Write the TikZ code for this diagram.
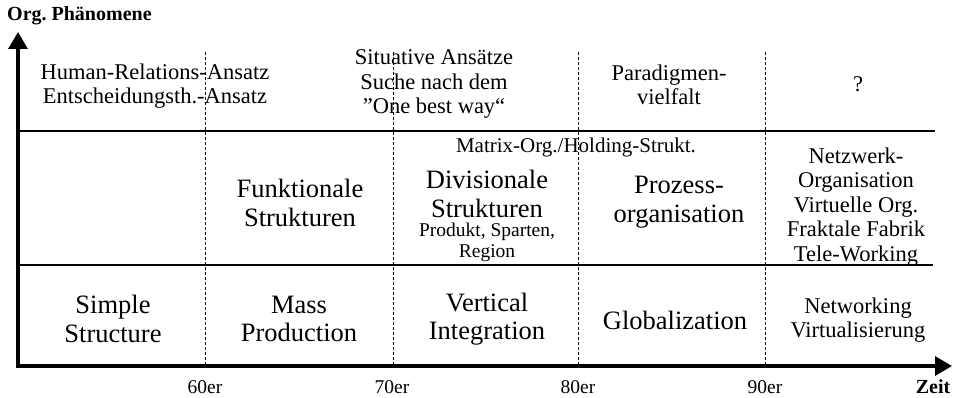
\documentclass[tikz,border=0pt]{standalone}
\usepackage{fontspec}
\setmainfont{Liberation Serif}
\usetikzlibrary{arrows.meta}
\frenchspacing
\begin{document}
\begin{tikzpicture}[x=1pt,y=-1pt,
  axis/.style={line width=3.2pt,-{Triangle[length=17pt,width=19pt]}},
  rowline/.style={line width=1.5pt},
  sepline/.style={line width=0.9pt,dash pattern=on 3pt off 2pt},
  big/.style={align=center,inner sep=0pt,font=\fontsize{26.5}{28.5}\selectfont},
  mid/.style={align=center,inner sep=0pt,font=\fontsize{22.5}{24.5}\selectfont},
  small/.style={align=center,inner sep=0pt,font=\fontsize{21}{23}\selectfont},
  tiny/.style={align=center,inner sep=0pt,font=\fontsize{19.5}{21}\selectfont},
  lbl/.style={inner sep=0pt,font=\fontsize{19.5}{21}\selectfont},
  blbl/.style={inner sep=0pt,font=\fontsize{20}{22}\selectfont\bfseries}]
\useasboundingbox (0,0) rectangle (956,398);
% axes
\coordinate (O) at (18,366);
\coordinate (Ytop) at (18,32);
\coordinate (Xend) at (952,366);
\coordinate (L1a) at (18,131);
\coordinate (L1b) at (935,131);
\coordinate (L2a) at (18,265);
\coordinate (L2b) at (933,265);
\draw[rowline] (L1a) -- (L1b);
\draw[rowline] (L2a) -- (L2b);
\foreach \n/\x in {60/205,70/393,80/578,90/765}{
  \coordinate (t\n) at (\x,52);
  \coordinate (b\n) at (\x,366);
  \draw[sepline] (t\n) -- (b\n);
}
\draw[axis] ([yshift=1.6pt]O) -- (Ytop);
\draw[axis] ([xshift=-1.6pt]O) -- (Xend);
% axis labels
\node[blbl,anchor=west] (ylab) at (7,16) {Org. Phänomene};
\node[blbl] (xlab) at (933,386.5) {Zeit};
\node[lbl] (d60) at (205,387) {60er};
\node[lbl] (d70) at (392,387) {70er};
\node[lbl] (d80) at (578,387) {80er};
\node[lbl] (d90) at (765,387) {90er};
% top row
\node[mid] (hr) at (155,86) {Human-Relations-Ansatz\\Entscheidungsth.-Ansatz};
\node[mid] (sit) at (434,84) {Situative Ansätze\\Suche nach dem\\”One best way“};
\node[mid] (par) at (669,85) {Paradigmen-\\vielfalt};
\node[mid] (q) at (858,84) {?};
% middle row
\node[big] (fun) at (300,203) {Funktionale\\Strukturen};
\node[small] (mat) at (576,147) {Matrix-Org./Holding-Strukt.};
\node[big] (div) at (487,194) {Divisionale\\Strukturen};
\node[tiny] (prod) at (487,242.5) {Produkt, Sparten,\\Region};
\node[big] (pro) at (679,202) {Prozess-\\organisation};
\node[mid] (net) at (856,207) {Netzwerk-\\Organisation\\Virtuelle Org.\\Fraktale Fabrik\\Tele-Working};
% bottom row
\node[big] (sim) at (113,319) {Simple\\Structure};
\node[big] (mas) at (299,319) {Mass\\Production};
\node[big] (ver) at (487,319) {Vertical\\Integration};
\node[big] (glo) at (675,320) {Globalization};
\node[mid] (nw) at (858,320) {Networking\\Virtualisierung};
\end{tikzpicture}
\end{document}
